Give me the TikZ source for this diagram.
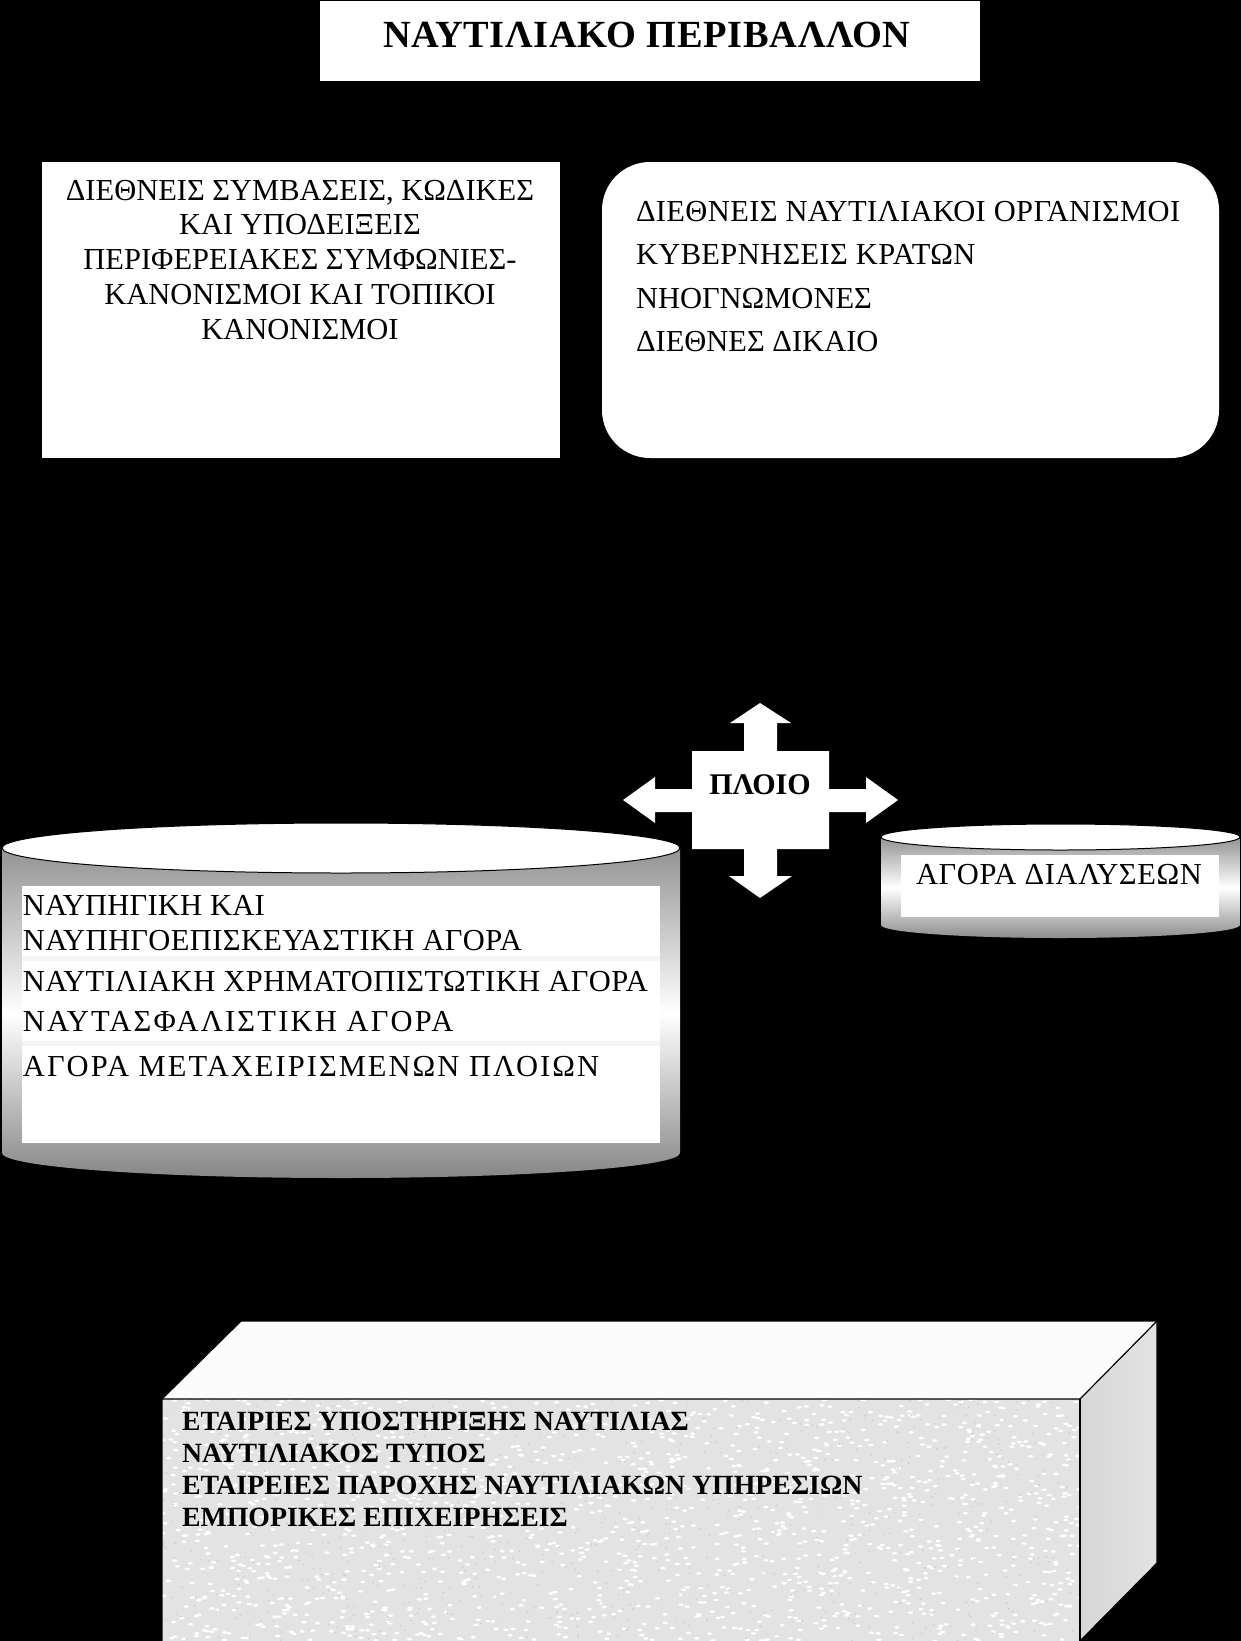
\documentclass[tikz,border=0pt]{standalone}
\usepackage{fontspec}
\setmainfont{Liberation Serif}
\begin{document}
\begin{tikzpicture}[x=1pt,y=-1pt,
  wbox/.style={draw=none, fill=white, inner sep=0pt, outer sep=0pt},
  txt/.style={inner sep=0pt, outer sep=0pt, text=black, font=\fontsize{30.5}{36}\selectfont, anchor=base west},
  ctxt/.style={txt, anchor=base},
  btxt/.style={txt, font=\fontsize{27.8}{32}\selectfont\bfseries},
  edge/.style={draw=black, line width=1.2pt, line join=round}]
\useasboundingbox (0,0) rectangle (1241,1641);
\fill[black] (0,0) rectangle (1241,1641);

% title
\node[wbox, minimum width=660pt, minimum height=80pt] (titlebox) at (650,41) {};
\node[ctxt, font=\fontsize{38.4}{44}\selectfont\bfseries\addfontfeature{LetterSpace=1.8}] (title) at (647,47) {ΝΑΥΤΙΛΙΑΚΟ ΠΕΡΙΒΑΛΛΟΝ};

% left box
\node[wbox, minimum width=518pt, minimum height=296pt] (conv) at (301,310) {};
\node[ctxt] (conv1) at (300,200) {ΔΙΕΘΝΕΙΣ ΣΥΜΒΑΣΕΙΣ, ΚΩΔΙΚΕΣ};
\node[ctxt] (conv2) at (300,234.5) {ΚΑΙ ΥΠΟΔΕΙΞΕΙΣ};
\node[ctxt] (conv3) at (300,269) {ΠΕΡΙΦΕΡΕΙΑΚΕΣ ΣΥΜΦΩΝΙΕΣ-};
\node[ctxt] (conv4) at (300,304.5) {ΚΑΝΟΝΙΣΜΟΙ ΚΑΙ ΤΟΠΙΚΟΙ};
\node[ctxt] (conv5) at (300,339.5) {ΚΑΝΟΝΙΣΜΟΙ};

% right rounded box
\node[wbox, rounded corners=48pt, minimum width=617pt, minimum height=296pt] (org) at (910.5,310) {};
\node[txt, font=\fontsize{30.5}{36}\selectfont\addfontfeature{LetterSpace=1.2}] (org1) at (636,221) {ΔΙΕΘΝΕΙΣ ΝΑΥΤΙΛΙΑΚΟΙ ΟΡΓΑΝΙΣΜΟΙ};
\node[txt, font=\fontsize{30.5}{36}\selectfont\addfontfeature{LetterSpace=1.2}] (org2) at (636,264.5) {ΚΥΒΕΡΝΗΣΕΙΣ ΚΡΑΤΩΝ};
\node[txt] (org3) at (636,308) {ΝΗΟΓΝΩΜΟΝΕΣ};
\node[txt] (org4) at (636,351.5) {ΔΙΕΘΝΕΣ ΔΙΚΑΙΟ};

% four-way arrow
\fill[white] (760,703) -- (791,723) -- (777,723) -- (777,751) -- (829,751) -- (829,789)
  -- (866,789) -- (866,777) -- (898,800) -- (866,823) -- (866,812) -- (829,812)
  -- (829,849) -- (777,849) -- (777,876) -- (792,876) -- (760,898) -- (729,876)
  -- (744,876) -- (744,849) -- (692,849) -- (692,812) -- (655,812) -- (655,823)
  -- (623,800) -- (655,777) -- (655,789) -- (692,789) -- (692,751) -- (744,751)
  -- (744,723) -- (730,723) -- cycle;
\node[ctxt, font=\fontsize{30}{36}\selectfont\bfseries] (ship) at (760,794) {ΠΛΟΙΟ};

% big cylinder
\path[shade, top color=gray!85, bottom color=gray!95, middle color=white]
  (2,848) -- (2,1153) arc[start angle=180, end angle=360, x radius=339pt, y radius=25pt] -- (680,848) -- cycle;
\filldraw[fill=white, draw=black, line width=1pt] (341,848) ellipse [x radius=339pt, y radius=25pt];
\fill[gray!9] (22,886) rectangle (660,1143);
\node[wbox, minimum width=638pt, minimum height=70pt] (mk1) at (341,921) {};
\node[wbox, minimum width=638pt, minimum height=80pt] (mk2) at (341,1001) {};
\node[wbox, minimum width=638pt, minimum height=97pt] (mk3) at (341,1094.5) {};
\node[txt, font=\fontsize{30.5}{36}\selectfont\addfontfeature{LetterSpace=0.8}] (mk1a) at (23,915) {ΝΑΥΠΗΓΙΚΗ ΚΑΙ};
\node[txt, font=\fontsize{30.5}{36}\selectfont\addfontfeature{LetterSpace=1.3}] (mk1b) at (23,950) {ΝΑΥΠΗΓΟΕΠΙΣΚΕΥΑΣΤΙΚΗ ΑΓΟΡΑ};
\node[txt, font=\fontsize{30.5}{36}\selectfont\addfontfeature{LetterSpace=1.4}] (mk2a) at (23,991) {ΝΑΥΤΙΛΙΑΚΗ ΧΡΗΜΑΤΟΠΙΣΤΩΤΙΚΗ ΑΓΟΡΑ};
\node[txt, font=\fontsize{30.5}{36}\selectfont\addfontfeature{LetterSpace=7.2}] (mk2b) at (23,1031.5) {ΝΑΥΤΑΣΦΑΛΙΣΤΙΚΗ ΑΓΟΡΑ};
\node[txt, font=\fontsize{30.5}{36}\selectfont\addfontfeature{LetterSpace=6.7}] (mk3a) at (23,1076.5) {ΑΓΟΡΑ ΜΕΤΑΧΕΙΡΙΣΜΕΝΩΝ ΠΛΟΙΩΝ};

% small cylinder
\path[shade, top color=gray!85, bottom color=gray!90, middle color=white]
  (881,837) -- (881,925) arc[start angle=180, end angle=360, x radius=179.5pt, y radius=13pt] -- (1240,837) -- cycle;
\filldraw[fill=white, draw=black, line width=1pt] (1060.5,837) ellipse [x radius=179.5pt, y radius=13pt];
\node[wbox, minimum width=318pt, minimum height=62pt] (scrapbox) at (1060,886) {};
\node[ctxt, font=\fontsize{30.5}{36}\selectfont\addfontfeature{LetterSpace=2}] (scrap) at (1059,884) {ΑΓΟΡΑ ΔΙΑΛΥΣΕΩΝ};

% 3D box
\fill[gray!3] (162,1399) -- (241,1321) -- (1157,1321) -- (1080,1399) -- cycle;
\shade[left color=gray!32, right color=gray!22] (1080,1399) -- (1157,1321) -- (1157,1563) -- (1080,1641) -- cycle;
\fill[gray!22] (162,1399) rectangle (1080,1641);
\begin{scope}
  \clip (162,1399) rectangle (1080,1641);
  \pgfmathsetseed{42}
  \foreach \k in {1,...,1600} {
    \fill[white] ({162+918*rnd},{1399+242*rnd}) ellipse [x radius=2.6pt, y radius=1.3pt];
  }
  \foreach \k in {1,...,700} {
    \fill[gray!45] ({162+918*rnd},{1399+242*rnd}) circle [radius=0.8pt];
  }
\end{scope}
\draw[edge] (162,1641) -- (162,1399) -- (241,1321) -- (1157,1321) -- (1157,1563) -- (1080,1641);
\draw[edge] (162,1399) -- (1080,1399) -- (1157,1321);
\draw[edge] (1080,1399) -- (1080,1641);
\node[btxt] (sup1) at (182,1430) {ΕΤΑΙΡΙΕΣ ΥΠΟΣΤΗΡΙΞΗΣ ΝΑΥΤΙΛΙΑΣ};
\node[btxt] (sup2) at (182,1462.5) {ΝΑΥΤΙΛΙΑΚΟΣ ΤΥΠΟΣ};
\node[btxt] (sup3) at (182,1494.5) {ΕΤΑΙΡΕΙΕΣ ΠΑΡΟΧΗΣ ΝΑΥΤΙΛΙΑΚΩΝ ΥΠΗΡΕΣΙΩΝ};
\node[btxt] (sup4) at (182,1526.5) {ΕΜΠΟΡΙΚΕΣ ΕΠΙΧΕΙΡΗΣΕΙΣ};
\end{tikzpicture}
\end{document}
